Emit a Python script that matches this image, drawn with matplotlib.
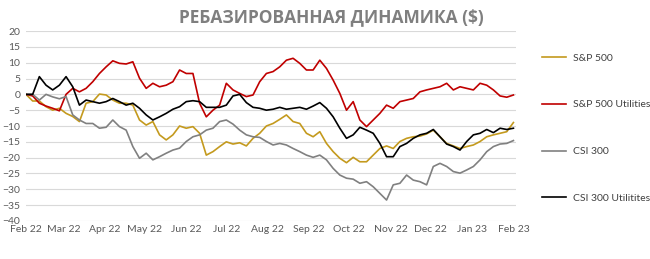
import matplotlib
matplotlib.use("Agg")
import matplotlib.pyplot as plt
import matplotlib.dates as mdates
import pandas as pd

title = "РЕБАЗИРОВАННАЯ ДИНАМИКА ($)"
series_names = ["S&P 500", "S&P 500 Utilities", "CSI 300", "CSI 300 Utilitites"]
start_date = "2022-02-01"
end_date = "2023-02-01"

sp500 = [0, -2.1, -2.1, -3.9, -5, -4.4, -6, -7, -8.6, -2.8, -2.3, 0.1, -0.2, -1.8, -2.8, -2.8,
         -3.4, -8.1, -9.7, -8.6, -12.8, -14.4, -12.8, -10, -10.7, -10.2, -12.3, -19.2, -18.1,
         -16.5, -15, -15.7, -15.3, -16.3, -13.9, -12.3,
         -10, -9.2, -7.9, -6.5, -8.6, -9.2, -12.3, -13.4, -11.8, -15.5, -18.1, -20.2, -21.6,
         -19.9, -21.3, -21.3, -19.2, -17.1, -16.3, -17.1, -14.9, -13.9, -13.4, -13.2, -12.5,
         -11.3, -13.4, -15.5, -16.3, -17.1, -16.5, -16, -14.9, -13.4, -12.8, -12.3, -11.8, -8.9]
sp500_util = [0, -0.5, -2.8, -3.7, -4.4, -5.2, 0, 1.9, 0.8, 1.9, 4, 6.6, 8.7, 10.6, 9.8, 9.6,
              10.3, 5.1, 1.9, 3.5, 2.4, 2.9, 4, 7.7, 6.6, 6.6, -2.8, -7.1, -5, -3.4, 3.5, 1.4,
              0.3, -0.7, -0.2, 4,
              6.6, 7.2, 8.7, 10.8, 11.4, 9.8, 7.7, 7.7, 10.8, 8.2, 4.5, 0.3, -5, -2.3, -8.1,
              -10.2, -8.1, -6, -3.4, -4.4, -2.3, -1.8, -1.3, 0.8, 1.4, 1.9, 2.4, 3.5, 1.4, 2.4,
              1.9, 1.4, 3.5, 2.9, 1.4, -0.5, -0.9, -0.2]
csi300 = [0, 0, -1.8, 0, -0.8, -1.4, -0.7, -6.5, -8.1, -9.2, -9.2, -10.7, -10.4, -8.1, -10.2,
          -11.3, -16.5, -20.2, -18.6, -20.7, -19.7, -18.6, -17.6, -17, -14.9, -13.4, -12.8,
          -11.3, -10.7, -8.6, -8.1, -9.4, -11.3, -12.8, -13.4, -13.6,
          -14.9, -16, -15.5, -16, -17.1, -18.1, -19.2, -19.9, -19.2, -20.7, -23.4, -25.5,
          -26.5, -26.8, -28.1, -27.6, -29.2, -31.3, -33.4, -28.6, -28.1, -25.5, -27.1, -27.6,
          -28.6, -22.8, -21.8, -22.8, -24.4, -24.9, -23.9, -22.8, -20.7, -18.1, -16.5, -15.7,
          -15.5, -14.6]
csi300_util = [0, 0, 5.6, 2.9, 1.4, 2.9, 5.6, 2.4, -3.4, -1.8, -2.3, -2.8, -2.3, -1.3, -2.3,
               -3.4, -2.8, -4.4, -6.5, -8.1, -7.1, -6, -4.7, -3.9, -2.3, -2, -2.3, -4.1, -4.1,
               -4.1, -3.4, -0.5, 0, -2.6, -4.1, -4.4,
               -5, -4.7, -4.1, -4.7, -4.4, -4.1, -4.7, -3.7, -2.6, -4.4, -7.1, -10.7, -13.9,
               -12.8, -10.4, -11.3, -12.3, -15.5, -19.7, -19.7, -16.5, -15.5, -13.9, -12.8,
               -12.3, -11.1, -13.4, -15.7, -16.5, -17.6, -14.9, -12.8, -12.3, -11.1, -12.1,
               -10.7, -11.1, -10.7]

colors = ["#C49A1E", "#C00000", "#808080", "#000000"]
yticks = list(range(-40, 25, 5))

dates = pd.date_range(start_date, end_date, periods=len(sp500))

plt.rcParams['font.family'] = ['Lato', 'DejaVu Sans']
fig = plt.figure(figsize=(6.5, 2.59), dpi=100)
ax = fig.add_axes([0.04, 0.147, 0.754, 0.733])

for vals, name, c in zip([sp500, sp500_util, csi300, csi300_util], series_names, colors):
    ax.plot(dates, vals, color=c, lw=1.2, label=name)

ax.set_ylim(-40, 20)
ax.set_yticks(yticks)
ax.set_xlim(pd.Timestamp(start_date), pd.Timestamp(end_date) + pd.Timedelta(days=2))
ax.xaxis.set_major_locator(mdates.MonthLocator())
ax.xaxis.set_major_formatter(mdates.DateFormatter('%b %y'))
ax.grid(axis='y', color='#d9d9d9', lw=0.8)
ax.set_axisbelow(True)
for s in ax.spines.values():
    s.set_visible(False)
ax.tick_params(length=0, labelsize=7.5, colors='#595959', pad=3)
ax.tick_params(axis='y', pad=4, labelsize=7.5)

fig.text(0.51, 0.935, title, ha='center', va='center', fontsize=12.5,
         fontweight='bold', color='#7f7f7f', family=['Open Sans', 'DejaVu Sans'])

leg = fig.legend(loc='upper left', bbox_to_anchor=(0.82, 0.83), frameon=False,
                 fontsize=7.5, labelspacing=3.6, handlelength=2.3, handletextpad=0.6,
                 labelcolor='#404040')
fig.savefig("out.png", dpi=100)
